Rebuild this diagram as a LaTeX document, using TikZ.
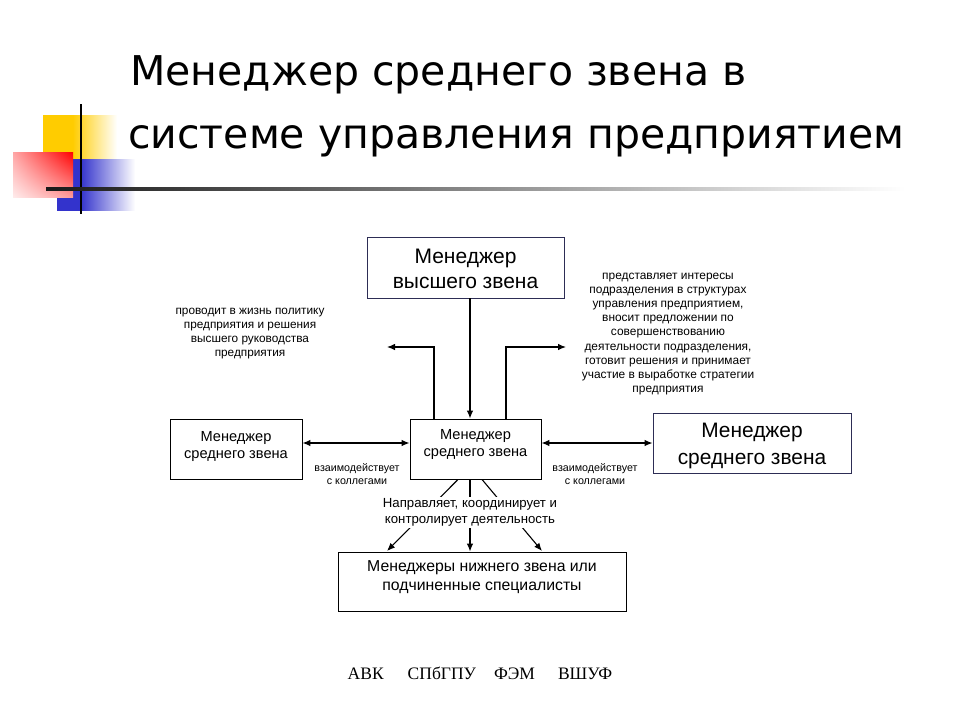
\documentclass[tikz,border=0pt]{standalone}
\usepackage{fontspec}
\setmainfont{Liberation Sans}
\newfontfamily\titlefont{DejaVu Sans}
\newfontfamily\footfont{Liberation Serif}
\usetikzlibrary{arrows.meta,calc,shadings}
\definecolor{ylw}{RGB}{255,204,0}
\definecolor{blu}{RGB}{51,51,204}
\definecolor{navy}{RGB}{45,45,85}
\pgfdeclarehorizontalshading{yelfade}{100bp}{color(0bp)=(ylw); color(45bp)=(ylw); color(75bp)=(white); color(100bp)=(white)}
\pgfdeclarehorizontalshading{blufade}{100bp}{color(0bp)=(blu); color(40bp)=(blu); color(75bp)=(white); color(100bp)=(white)}
\pgfdeclarehorizontalshading{linefade}{100bp}{color(0bp)=(black); color(25bp)=(black!90); color(45bp)=(black!55); color(68bp)=(black!12); color(75bp)=(white); color(100bp)=(white)}
\begin{document}
\begin{tikzpicture}[x=1pt,y=-1pt,
  box/.style={draw, line width=0.9pt, fill=white, align=center, inner sep=0pt},
  arr/.style={line width=1.1pt, -{Latex[length=8pt,width=6.5pt]}},
  darr/.style={line width=1.1pt, {Latex[length=8pt,width=6.5pt]}-{Latex[length=8pt,width=6.5pt]}},
  note/.style={align=center, inner sep=0pt}]
\fill[white] (0,0) rectangle (960,720);
\useasboundingbox (0,0) rectangle (960,720);
% decoration
\shade[shading=yelfade] (43,115) rectangle (117,185);
\shade[shading=blufade] (57,159) rectangle (135,210);
\shade[upper right=red, upper left=red!35!white, lower left=red!8!white, lower right=red!40!white] (13,152) rectangle (73,197);
\fill[black] (79.8,104) rectangle (82.2,214);
\shade[shading=linefade] (46,187.6) rectangle (905,190.4);
% title
\node[anchor=base west, inner sep=0pt, font=\titlefont\fontsize{41}{48}\selectfont] (t1) at (130,85) {Менеджер среднего звена в};
\node[anchor=base west, inner sep=0pt, font=\titlefont\fontsize{41}{48}\selectfont] (t2) at (128,148) {системе управления предприятием};
% boxes
\node[box, draw=navy, minimum width=197, minimum height=61,
  label={[note, font=\fontsize{21}{25}\selectfont, yshift=-1pt]center:{Менеджер\\высшего звена}}] (top) at (465.5,267.5) {};
\node[box, minimum width=132, minimum height=60,
  label={[note, font=\fontsize{14.6}{17.5}\selectfont, yshift=2.5pt]center:{Менеджер\\среднего звена}}] (left) at (236,449) {};
\node[box, minimum width=131, minimum height=60,
  label={[note, font=\fontsize{14.6}{17.5}\selectfont, yshift=4.5pt]center:{Менеджер\\среднего звена}}] (mid) at (475.5,449) {};
\node[box, draw=navy, minimum width=198, minimum height=60,
  label={[note, font=\fontsize{20.9}{27}\selectfont, yshift=-2.5pt]center:{Менеджер\\среднего звена}}] (right) at (752,443) {};
\node[box, minimum width=288, minimum height=59,
  label={[note, font=\fontsize{15.8}{18.5}\selectfont, yshift=4.5pt]center:{Менеджеры нижнего звена или\\подчиненные специалисты}}] (bot) at (482,581.5) {};
% helper coordinates
\coordinate (xa) at (470,0);
\coordinate (xl) at (434,0);
\coordinate (xr) at (506,0);
\coordinate (ya) at (0,443);
\coordinate (lend) at (387,347);
\coordinate (rend) at (566,347);
\coordinate (f1) at (458,0);
\coordinate (f3) at (482,0);
\coordinate (b1) at (387,551);
\coordinate (b3) at (542,551);
% connectors
\draw[arr] (top.south -| xa) -- (mid.north -| xa);
\draw[arr] (mid.north -| xl) |- (lend);
\draw[arr] (mid.north -| xr) |- (rend);
\draw[darr] (left.east |- ya) -- (mid.west |- ya);
\draw[darr] (mid.east |- ya) -- (right.west |- ya);
\draw[arr] (mid.south -| f1) -- (b1);
\draw[arr] (mid.south -| xa) -- (bot.north -| xa);
\draw[arr] (mid.south -| f3) -- (b3);
% labels
\node[note, fill=white, inner sep=2pt, font=\fontsize{13.2}{15.5}\selectfont] (dir) at (470,512.5) {Направляет, координирует и\\контролирует деятельность};
\node[note, font=\fontsize{11.8}{14}\selectfont] (ltxt) at (250,334) {проводит в жизнь политику\\предприятия и решения\\высшего руководства\\предприятия};
\node[note, font=\fontsize{11.9}{14.2}\selectfont] (rtxt) at (668,334) {представляет интересы\\подразделения в структурах\\управления предприятием,\\вносит предложении по\\совершенствованию\\деятельности подразделения,\\готовит решения и принимает\\участие в выработке стратегии\\предприятия};
\node[note, font=\fontsize{10.7}{12.5}\selectfont] (lc) at (357,474) {взаимодействует\\с коллегами};
\node[note, font=\fontsize{10.7}{12.5}\selectfont] (rc) at (595,474) {взаимодействует\\с коллегами};
% footer
\node[anchor=base, inner sep=0pt, font=\footfont\fontsize{17.5}{20}\selectfont] (foot) at (480,679) {АВК\hspace{24pt}СПбГПУ\hspace{18pt}ФЭМ\hspace{23pt}ВШУФ};
\end{tikzpicture}
\end{document}
